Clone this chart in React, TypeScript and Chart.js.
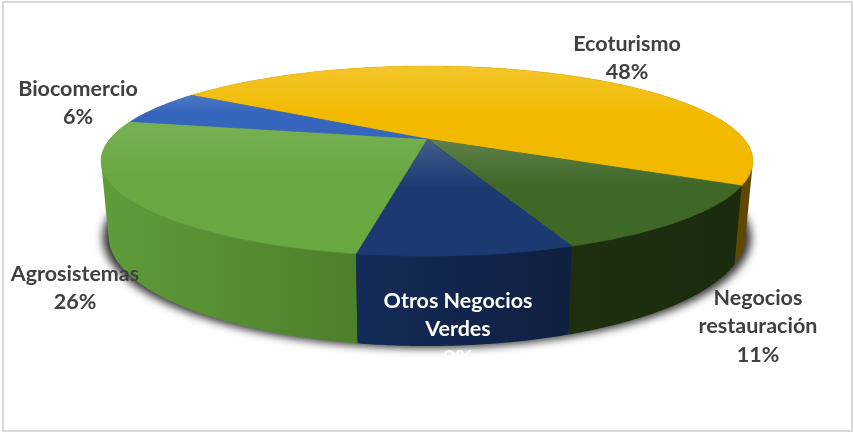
import React, { useEffect, useRef } from "react";
import { Chart, registerables } from "chart.js";

Chart.register(...registerables);

const categories = ["Ecoturismo", "Negocios restauración", "Otros Negocios Verdes", "Agrosistemas", "Biocomercio"];
const shares = [48.45, 11.49, 8.6, 25.5, 5.95];
const topColors = ["#F1BA00", "#3F6827", "#1B3A72", "#69A841", "#3565BC"];
const sheenAlpha = [0.16, 0.17, 0.18, 0.1, 0.12];
const wallLeftColors = ["#7C5F00", "#1D2F0F", "#132B58", "#5F9C3A", "#2A4F94"];
const wallRightColors = ["#5E4800", "#1B2C0E", "#0F1F3F", "#4E7F2B", "#2A4F94"];

const labelLines = [["Ecoturismo"], ["Negocios", "restauración"], ["Otros Negocios", "Verdes"], ["Agrosistemas"], ["Biocomercio"]];
const labelColors = ["#404040", "#404040", "#FFFFFF", "#404040", "#404040"];
const labelAnchors = [
  [627, 44],
  [758, 298],
  [458, 301],
  [75, 274],
  [78, 89],
];

const W = 854;
const H = 433;
const APEX_X = 427;
const APEX_Y = 139;
const RX = 317;
const RY = 89.9;
const PERSP = 0.2316;
const BASE_SCALE = 0.977;
const BASE_Y = 210.3;
const BASE_STRETCH = 1.16;

type P = [number, number];

const rel = (t: number): P => {
  const u = Math.cos(t);
  const v = Math.sin(t);
  const w = 1 - PERSP * v;
  return [(RX * u) / w, (RY * v) / w];
};
const topPt = (t: number): P => {
  const [x, y] = rel(t);
  return [APEX_X + x, APEX_Y + y];
};
const basePt = (t: number): P => {
  const [x, y] = rel(t);
  return [APEX_X + BASE_SCALE * x, BASE_Y + BASE_STRETCH * y];
};
const sweep = (a: number, b: number, f: (t: number) => P): P[] => {
  const n = Math.max(2, Math.ceil((b - a) / 0.01));
  const out: P[] = [];
  for (let i = 0; i <= n; i++) out.push(f(a + ((b - a) * i) / n));
  return out;
};
const trace = (ctx: CanvasRenderingContext2D, pts: P[]) => {
  ctx.beginPath();
  pts.forEach(([x, y], i) => (i ? ctx.lineTo(x, y) : ctx.moveTo(x, y)));
  ctx.closePath();
};
// one path of same-handed quads, so a wall folding round the silhouette stays filled
const traceWall = (ctx: CanvasRenderingContext2D, top: P[], base: P[]) => {
  ctx.beginPath();
  for (let i = 0; i + 1 < top.length; i++) {
    const q = [top[i], top[i + 1], base[i + 1], base[i]];
    let area = 0;
    q.forEach((p, k) => {
      const r = q[(k + 1) % 4];
      area += p[0] * r[1] - r[0] * p[1];
    });
    if (area < 0) q.reverse();
    q.forEach(([x, y], k) => (k ? ctx.lineTo(x, y) : ctx.moveTo(x, y)));
    ctx.closePath();
  }
};

const pie3d = {
  id: "pie3d",
  beforeDatasetDraw: () => false,
  afterDatasetsDraw(chart: any) {
    const ctx: CanvasRenderingContext2D = chart.ctx;
    const arcs = chart.getDatasetMeta(0).data as any[];
    const colors = chart.data.datasets[0].backgroundColor as string[];

    // soft cast shadow below the base: the shape sits off the canvas, only its shadow lands here
    ctx.save();
    ctx.shadowColor = "rgba(0,0,0,0.8)";
    ctx.shadowBlur = 8;
    ctx.shadowOffsetX = 2000;
    ctx.shadowOffsetY = 2;
    ctx.fillStyle = "#000";
    const shadow = sweep(0, Math.PI * 2, basePt).map(([x, y]): P => [APEX_X + (x - APEX_X) * 1.018 - 2000, y]);
    trace(ctx, shadow);
    ctx.fill();
    ctx.restore();

    // walls, back to front
    const order = arcs.map((_, i) => i).sort((i, j) => {
      const mid = (a: any) => Math.sin((a.startAngle + a.endAngle) / 2);
      return mid(arcs[i]) - mid(arcs[j]);
    });
    for (const i of order) {
      const { startAngle, endAngle } = arcs[i];
      const top = sweep(startAngle, endAngle, topPt);
      const base = sweep(startAngle, endAngle, basePt);
      const xs = [...top, ...base].map((p) => p[0]);
      const g = ctx.createLinearGradient(Math.min(...xs), 0, Math.max(...xs), 0);
      g.addColorStop(0, wallLeftColors[i]);
      g.addColorStop(1, wallRightColors[i]);
      ctx.fillStyle = g;
      traceWall(ctx, top, base);
      ctx.fill();
    }

    // top face
    arcs.forEach((arc, i) => {
      const pts: P[] = [[APEX_X, APEX_Y], ...sweep(arc.startAngle, arc.endAngle, topPt)];
      ctx.fillStyle = colors[i];
      ctx.strokeStyle = colors[i];
      ctx.lineWidth = 0.6;
      trace(ctx, pts);
      ctx.fill();
      ctx.stroke();
      const ys = pts.map((p) => p[1]);
      const y0 = Math.min(...ys);
      const y1 = Math.max(...ys);
      const sheen = ctx.createLinearGradient(0, y0, 0, y0 + (y1 - y0) * 0.42);
      sheen.addColorStop(0, `rgba(255,255,255,${sheenAlpha[i]})`);
      sheen.addColorStop(1, "rgba(255,255,255,0)");
      ctx.fillStyle = sheen;
      trace(ctx, pts);
      ctx.fill();
    });

    // data labels
    ctx.save();
    ctx.font = "bold 21.5px Lato";
    ctx.textAlign = "center";
    ctx.textBaseline = "middle";
    const values = chart.data.datasets[0].data as number[];
    const names = chart.data.labels as string[];
    names.forEach((_, i) => {
      const lines = [...labelLines[i], `${Math.round(values[i])}%`];
      const [x, y] = labelAnchors[i];
      ctx.fillStyle = labelColors[i];
      lines.forEach((line, k) => ctx.fillText(line, x, y + k * 28.5));
    });
    ctx.restore();

    // picture frame
    ctx.strokeStyle = "#D9D9D9";
    ctx.lineWidth = 2;
    ctx.strokeRect(3, 2, W - 5, H - 4);
  },
};

export default function App() {
  const ref = useRef<HTMLCanvasElement>(null);
  useEffect(() => {
    document.body.style.margin = "0";
    const chart = new Chart(ref.current!, {
      type: "pie",
      data: {
        labels: categories,
        datasets: [{ data: shares, backgroundColor: topColors, borderWidth: 0 }],
      },
      options: {
        responsive: false,
        animation: false,
        rotation: 303.2,
        plugins: { legend: { display: false }, tooltip: { enabled: false }, title: { display: false } },
      },
      plugins: [pie3d],
    } as any);
    return () => chart.destroy();
  }, []);
  return <canvas ref={ref} width={W} height={H} style={{ display: "block", background: "#fff" }} />;
}
